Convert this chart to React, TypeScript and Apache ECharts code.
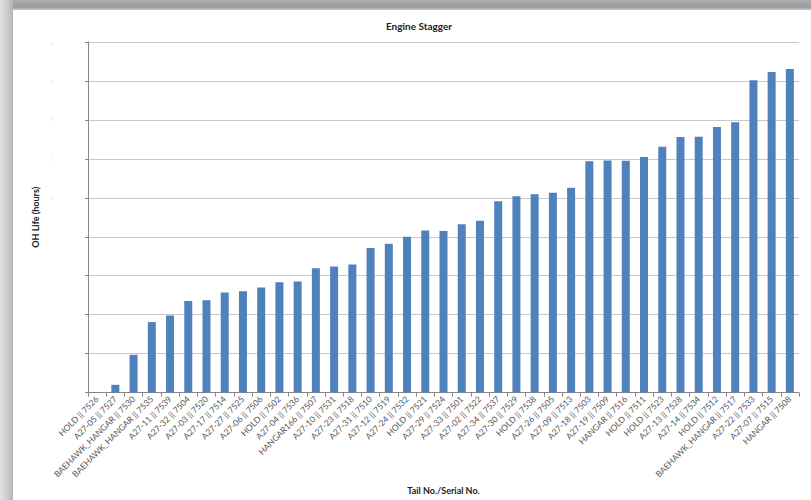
import React, { useEffect, useRef } from "react";
import * as echarts from "echarts";

const categories: string[] = [
  "HOLD || 7526", "A27-05 || 7527", "BAEHAWK_HANGAR || 7530", "BAEHAWK_HANGAR || 7535",
  "A27-11 || 7539", "A27-32 || 7504", "A27-03 || 7520", "A27-17 || 7514", "A27-27 || 7525",
  "A27-06 || 7506", "HOLD || 7502", "A27-04 || 7536", "HANGAR166 || 7507", "A27-10 || 7531",
  "A27-23 || 7518", "A27-31 || 7510", "A27-12 || 7519", "A27-24 || 7532", "HOLD || 7521",
  "A27-29 || 7524", "A27-33 || 7501", "A27-02 || 7522", "A27-34 || 7537", "A27-30 || 7529",
  "HOLD || 7538", "A27-26 || 7505", "A27-09 || 7513", "A27-18 || 7503", "A27-19 || 7509",
  "HANGAR || 7516", "HOLD || 7511", "HOLD || 7523", "A27-13 || 7528", "A27-14 || 7534",
  "HOLD || 7512", "BAEHAWK_HANGAR || 7517", "A27-22 || 7533", "A27-07 || 7515", "HANGAR || 7508",
];

const ohLife: number[] = [
  0, 0.2, 0.97, 1.81, 1.98, 2.35, 2.37, 2.57, 2.6, 2.7, 2.83, 2.85, 3.19, 3.24, 3.29,
  3.71, 3.82, 4.0, 4.16, 4.15, 4.32, 4.41, 4.91, 5.04, 5.09, 5.13, 5.26, 5.94, 5.96,
  5.95, 6.05, 6.31, 6.56, 6.57, 6.82, 6.94, 8.02, 8.23, 8.31,
];

const title = "Engine Stagger";
const xName = "Tail No./Serial No.";
const yName = "OH Life (hours)";

export default function App() {
  const ref = useRef<HTMLDivElement>(null);
  useEffect(() => {
    if (!ref.current) return;
    const chart = echarts.init(ref.current, null, { renderer: "svg" });
    const font = "Lato, 'Open Sans', sans-serif";
    chart.setOption({
      animation: false,
      backgroundColor: "#ffffff",
      textStyle: { fontFamily: font },
      graphic: [
        {
          type: "rect",
          shape: { x: 0, y: 0, width: 811, height: 10 },
          style: {
            fill: new echarts.graphic.LinearGradient(0, 0, 0, 1, [
              { offset: 0, color: "#b0b0b0" },
              { offset: 0.7, color: "#9a9a9a" },
              { offset: 1, color: "#c8c8c8" },
            ]),
          },
          z: -1,
        },
        {
          type: "rect",
          shape: { x: 0, y: 0, width: 13, height: 500 },
          style: {
            fill: new echarts.graphic.LinearGradient(0, 0, 1, 0, [
              { offset: 0, color: "#e2e2e2" },
              { offset: 0.5, color: "#cfcfcf" },
              { offset: 1, color: "#b4b4b4" },
            ]),
          },
          z: -1,
        },
      ],
      title: {
        text: title,
        left: 414,
        top: 16,
        textAlign: "center",
        textStyle: { fontSize: 10, fontWeight: "bold", color: "#222", fontFamily: font },
      },
      grid: { left: 88, right: 12, top: 42, bottom: 106, containLabel: false },
      xAxis: {
        type: "category",
        data: categories,
        name: xName,
        nameLocation: "middle",
        nameGap: 91,
        nameTextStyle: { fontSize: 9, fontWeight: "bold", color: "#222", fontFamily: font },
        axisLine: { lineStyle: { color: "#868686", width: 1 } },
        axisTick: { show: true, length: 4, lineStyle: { color: "#868686" } },
        axisLabel: {
          interval: 0,
          rotate: 45,
          fontSize: 8.5,
          color: "#555",
          margin: 5,
          fontFamily: font,
        },
      },
      yAxis: {
        type: "value",
        min: 0,
        max: 9,
        interval: 1,
        name: yName,
        nameLocation: "middle",
        nameGap: 48,
        nameRotate: 90,
        nameTextStyle: { fontSize: 9, fontWeight: "bold", color: "#222", fontFamily: font },
        axisLine: { show: true, lineStyle: { color: "#868686", width: 1 } },
        axisTick: { show: true, length: 3, lineStyle: { color: "#868686" } },
        axisLabel: {
          margin: 36,
          fontSize: 6,
          color: "#aaa",
          formatter: (v: number) => (v >= 5 ? ":" : ""),
        },
        splitLine: { show: true, lineStyle: { color: "#c8c8c8", width: 1 } },
      },
      series: [
        {
          type: "bar",
          data: ohLife,
          barWidth: 8,
          itemStyle: { color: "#4f81bd" },
        },
      ],
    });
    return () => chart.dispose();
  }, []);
  return (
    <div
      ref={ref}
      style={{ position: "fixed", left: 0, top: 0, width: 811, height: 500 }}
    />
  );
}
